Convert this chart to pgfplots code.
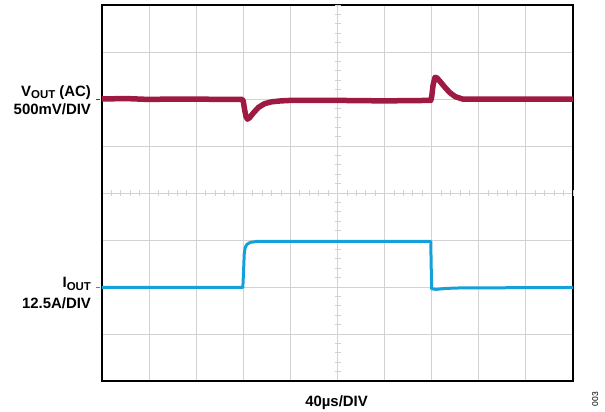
\documentclass[border=0pt]{standalone}
\usepackage{pgfplots}
\pgfplotsset{compat=1.18}
\usepackage{fontspec}
\setmainfont{Liberation Sans}
\definecolor{vred}{HTML}{9E1A42}
\definecolor{iblue}{HTML}{14A0D8}
\definecolor{gridc}{HTML}{D2D2D2}
\newcommand{\lbl}{\fontsize{15}{17}\selectfont\bfseries}
\newcommand{\sub}[1]{\raisebox{-0.28ex}{\fontsize{11.5}{12}\selectfont\bfseries #1}}
\begin{document}
\begin{tikzpicture}
\path[use as bounding box] (-102bp,-31bp) rectangle (503bp,381bp);
\begin{axis}[at={(0,0)}, anchor=south west, scale only axis,
  width=471bp, height=376bp,
  xmin=0, xmax=10, ymin=0, ymax=8,
  xtick={1,...,9}, ytick={1,...,7},
  xticklabels={}, yticklabels={},
  major tick length=0pt,
  grid=major, major grid style={draw=gridc, line width=0.9bp},
  axis line style={line width=1.3bp, black},
  clip=false]
% center-line minor ticks
\pgfplotsinvokeforeach{0.2,0.4,...,9.9}{
  \draw[gridc, line width=0.8bp] (axis cs:#1,4) ++(0,-3bp) -- ++(0,6bp);
}
\pgfplotsinvokeforeach{0.2,0.4,...,7.9}{
  \draw[gridc, line width=0.8bp] (axis cs:5,#1) ++(-3bp,0) -- ++(6bp,0);
}
% V_OUT
\addplot[vred, line width=5.5bp, line join=round] coordinates {
(0,6.0)(0.5,6.01)(1,5.99)(1.5,6.0)(2,6.0)(2.5,5.99)(2.98,5.99)
(3.0,5.95)(3.03,5.76)(3.06,5.62)(3.09,5.57)(3.14,5.61)(3.22,5.71)
(3.32,5.82)(3.45,5.90)(3.6,5.94)(3.8,5.96)(4,5.97)(5,5.97)(6,5.96)
(6.98,5.97)(7.0,6.05)(7.03,6.3)(7.07,6.46)(7.11,6.45)(7.18,6.37)
(7.28,6.25)(7.38,6.14)(7.5,6.05)(7.65,6.0)(8,6.0)(9,6.0)(10,6.0)
};
% I_OUT
\addplot[iblue, line width=3bp, line join=round] coordinates {
(0,1.99)(2.99,1.99)(3.0,2.2)(3.02,2.7)(3.04,2.84)(3.08,2.91)(3.15,2.95)
(3.3,2.97)(4,2.97)(5,2.97)(6,2.97)(6.98,2.97)(6.99,2.4)(7.0,1.96)
(7.1,1.95)(7.3,1.97)(7.6,1.98)(10,1.99)
};
% channel markers
\draw[vred, line width=1bp] (axis cs:-0.13,6) -- (axis cs:-0.05,6);
\draw[iblue, line width=1bp] (axis cs:-0.13,1.98) -- (axis cs:-0.05,1.98);
% labels
\node[anchor=base east, inner sep=0pt] at (axis cs:-0.23,6.06) {\lbl V\sub{OUT} (AC)};
\node[anchor=base east, inner sep=0pt] at (axis cs:-0.23,5.66) {\lbl 500mV/DIV};
\node[anchor=base east, inner sep=0pt] at (axis cs:-0.23,1.98) {\lbl I\sub{OUT}};
\node[anchor=base east, inner sep=0pt] at (axis cs:-0.23,1.55) {\lbl 12.5A/DIV};
\node[anchor=base, inner sep=0pt] at (axis cs:4.98,-0.553) {\lbl 40µs/DIV};
\node[rotate=90, inner sep=0pt] at (axis cs:10.47,-0.39) {\fontsize{8.5}{10}\selectfont 003};
\end{axis}
\end{tikzpicture}
\end{document}
